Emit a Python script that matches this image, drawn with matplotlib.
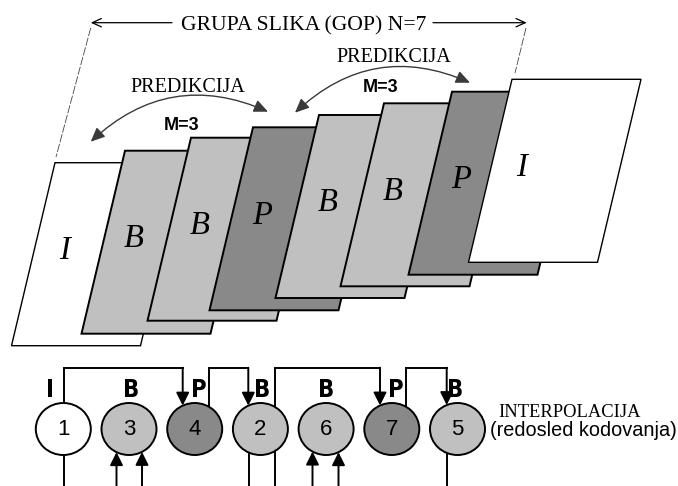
import matplotlib
matplotlib.use('Agg')
import numpy as np
import matplotlib.pyplot as plt
from matplotlib.patches import Polygon, Ellipse, FancyArrowPatch
from matplotlib import font_manager as fm

# ---------------- data ----------------
frame_types = ['I', 'B', 'B', 'P', 'B', 'B', 'P', 'I']      # GOP display order
node_order = [1, 3, 4, 2, 6, 7, 5]                           # coding order numbers
node_types = ['I', 'B', 'P', 'B', 'B', 'P', 'B']
gop_label = 'GRUPA SLIKA (GOP) N=7'
pred_label = 'PREDIKCIJA'
m_label = 'M=3'
interp_label = 'INTERPOLACIJA'
order_label = '(redosled kodovanja)'

fill = {'I': 'white', 'B': '#c0c0c0', 'P': '#898989'}

# ---------------- fonts ----------------
SERIF = 'Liberation Serif'
SANS = 'Liberation Sans'


def pick_condensed_bold():
    best = None
    for f in fm.fontManager.ttflist:
        nm = f.name.lower()
        st = str(f.stretch).lower()
        cond = ('narrow' in nm or 'condensed' in nm or 'condensed' in st
                or 'narrow' in f.fname.lower() or 'condensed' in f.fname.lower())
        if not cond:
            continue
        w = f.weight if isinstance(f.weight, int) else {'bold': 700, 'normal': 400}.get(str(f.weight), 400)
        if str(f.style) != 'normal':
            continue
        score = abs(w - 700)
        if best is None or score < best[0]:
            best = (score, f.fname)
    if best is None:
        return fm.FontProperties(family=SANS, weight='bold')
    return fm.FontProperties(fname=best[1])


NARROW_FP = pick_condensed_bold()

# ---------------- layout ----------------
W, H = 678, 486
fig = plt.figure(figsize=(W / 100, H / 100), dpi=100)
ax = fig.add_axes([0, 0, 1, 1])
ax.set_xlim(0, W)
ax.set_ylim(H, 0)
ax.axis('off')

frame_tlx = [55, 125, 191, 253, 319, 384, 452, 512]
frame_top = [162.7, 150.7, 137.7, 127.3, 115, 103.3, 91.7, 79.3]
FW, FH, SK = 129, 183, 43.5

for i, t in enumerate(frame_types):
    x0, y0 = frame_tlx[i], frame_top[i]
    pts = [(x0, y0), (x0 + FW, y0), (x0 + FW - SK, y0 + FH), (x0 - SK, y0 + FH)]
    ax.add_patch(Polygon(pts, closed=True, fc=fill[t], ec='black',
                         lw=1.0 if t == 'I' else 1.4, joinstyle='miter', zorder=2 + i))
    ly = y0 + 88
    lx = x0 - SK * 88 / FH + 30
    ax.text(lx, ly, t, family=SERIF, style='italic', fontsize=23.5,
            ha='center', va='center', zorder=20)

# GOP bracket on top
gy = 22.7
ax.annotate('', xy=(90.7, gy), xytext=(172, gy),
            arrowprops=dict(arrowstyle='->,head_length=0.55,head_width=0.25',
                            lw=0.9, color='black', shrinkA=0, shrinkB=0, mutation_scale=12))
ax.annotate('', xy=(526.7, gy), xytext=(433, gy),
            arrowprops=dict(arrowstyle='->,head_length=0.55,head_width=0.25',
                            lw=0.9, color='black', shrinkA=0, shrinkB=0, mutation_scale=12))
ax.text(303.5, 30.5, gop_label, family=SERIF, fontsize=15.6, ha='center', va='baseline')
ax.plot([90.7, 56], [28, 157], color='#444444', lw=0.6, ls=(0, (10, 2)))
ax.plot([526, 515], [28, 73], color='#444444', lw=0.6, ls=(0, (10, 2)))

# prediction arcs
for (a, b, px, py, mx, my) in [((90.7, 141.7), (268, 111.7), 187.5, 91.7, 181.7, 130),
                               ((295, 112.7), (470, 82.7), 394.3, 61.7, 380.7, 92.5)]:
    ax.add_patch(FancyArrowPatch(a, b, connectionstyle='arc3,rad=-0.33',
                                 arrowstyle='<|-|>,head_length=0.85,head_width=0.38',
                                 mutation_scale=10, lw=1.0, color='#3a3a3a',
                                 shrinkA=0, shrinkB=0, zorder=1))
    ax.text(px, py, pred_label, family=SERIF, fontsize=14.5, ha='center', va='baseline')
    ax.text(mx, my, m_label, family=SANS, fontsize=13, weight='bold',
            ha='center', va='baseline')

# ---------------- coding order nodes ----------------
NX0, NDX, NY = 63.3, 65.7, 429
EW, EH = 55, 52
node_x = [NX0 + NDX * k for k in range(len(node_order))]


def top_y(k, x):
    d = (x - node_x[k]) / (EW / 2)
    return NY - EH / 2 * np.sqrt(max(0.0, 1 - d * d))


def bot_y(k, x):
    d = (x - node_x[k]) / (EW / 2)
    return NY + EH / 2 * np.sqrt(max(0.0, 1 - d * d))


lab_dx = [-13, 2.5, 4, 2, 0, 4, -2.5]
for k, (n, t) in enumerate(zip(node_order, node_types)):
    ax.add_patch(Ellipse((node_x[k], NY), EW, EH, fc=fill[t], ec='black', lw=1.4, zorder=5))
    ax.text(node_x[k], NY + 0.5, str(n), family=SANS, fontsize=16, ha='center',
            va='center', zorder=6)
    fp = NARROW_FP.copy()
    fp.set_size(17)
    ax.text(node_x[k] + lab_dx[k], 396.5, t, fontproperties=fp,
            ha='center', va='baseline', zorder=6)

# reference brackets above nodes: (source node, src x, target node, dst x)
BY = 368.3
brackets = [(0, 64, 2, 182.7), (2, 209.3, 3, 248.3), (3, 275, 5, 380), (5, 406, 6, 446.7)]
for s, sx, d, dx in brackets:
    ax.plot([sx, sx, dx], [top_y(s, sx), BY, BY], color='black', lw=1.4,
            solid_joinstyle='miter', zorder=4)
    ax.add_patch(FancyArrowPatch((dx, BY - 0.6), (dx, top_y(d, dx)),
                                 arrowstyle='-|>,head_length=0.6,head_width=0.3',
                                 mutation_scale=13, lw=1.4, color='black',
                                 shrinkA=0, shrinkB=0, zorder=7))

# lines below nodes
down_lines = [(0, 64), (3, 249.3), (3, 275), (6, 446.7)]
for k, x in down_lines:
    ax.plot([x, x], [bot_y(k, x), H + 2], color='black', lw=1.4, zorder=4)
up_arrows = [(1, 116.5), (1, 142), (4, 312.5), (4, 338.5)]
for k, x in up_arrows:
    ax.add_patch(FancyArrowPatch((x, H + 2), (x, bot_y(k, x)),
                                 arrowstyle='-|>,head_length=0.6,head_width=0.3',
                                 mutation_scale=13, lw=1.4, color='black',
                                 shrinkA=0, shrinkB=0, zorder=7))

ax.text(498, 416.5, interp_label, family=SERIF, fontsize=13.3, ha='left', va='baseline')
ax.text(677, 436, order_label, family=SANS, fontsize=14.3, ha='right', va='baseline')

fig.savefig('out.png', dpi=100)
